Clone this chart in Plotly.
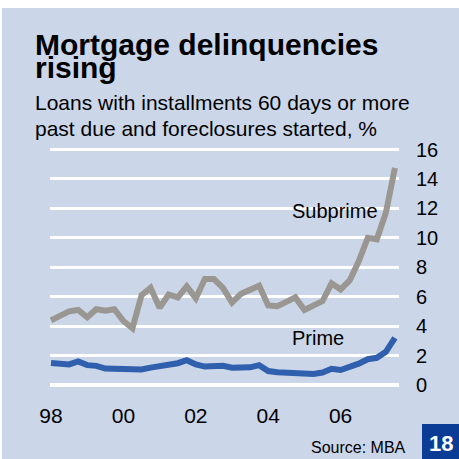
import plotly.graph_objects as go

# Quarterly data, 1998Q1 - 2007Q3
years = [1998 + i * 0.25 for i in range(39)]
subprime = [4.4, 4.75, 5.0, 5.1, 4.6, 5.15, 5.05, 5.15, 4.35, 3.85,
            6.1, 6.6, 5.25, 6.15, 5.95, 6.7, 5.9, 7.2, 7.2, 6.6,
            5.6, 6.2, 6.5, 6.75, 5.4, 5.35, 5.65, 5.95, 5.1, 5.4,
            5.7, 6.9, 6.5, 7.1, 8.4, 10.0, 9.9, 11.7, 14.75]
prime = [1.5, 1.4, 1.4, 1.6, 1.35, 1.3, 1.12, 1.1, 1.07, 1.0,
         1.05, 1.18, 1.25, 1.33, 1.48, 1.68, 1.4, 1.25, 1.27, 1.3,
         1.18, 1.15, 1.2, 1.35, 0.95, 0.86, 0.84, 0.86, 0.8, 0.75,
         0.85, 1.1, 1.02, 1.2, 1.45, 1.75, 1.85, 2.25, 3.2]
x_tick_vals = [1998, 2000, 2002, 2004, 2006]
x_tick_text = ["98", "00", "02", "04", "06"]
y_tick_vals = [0, 2, 4, 6, 8, 10, 12, 14, 16]

BG = "#CBD6E8"
FONT = "Liberation Sans, Arial, sans-serif"

W, H = 459, 459
ML, MR, MT, MB = 50, 60, 147, 71
PW = W - ML - MR
PH = H - MT - MB

def px(x):
    return (x - ML) / PW

def py(y):
    return (H - MB - y) / PH

fig = go.Figure()
fig.add_trace(go.Scatter(x=years, y=subprime, mode="lines",
                         line=dict(color="#9A9792", width=6), hoverinfo="skip"))
fig.add_trace(go.Scatter(x=years, y=prime, mode="lines",
                         line=dict(color="#2F5FAD", width=6), hoverinfo="skip"))

annotations = [
    dict(text="<b>Mortgage delinquencies</b>", x=px(33), y=py(45), xanchor="left", yanchor="middle",
         font=dict(size=30, color="#000000", family=FONT)),
    dict(text="<b>rising</b>", x=px(33), y=py(67), xanchor="left", yanchor="middle",
         font=dict(size=30, color="#000000", family=FONT)),
    dict(text="Loans with installments 60 days or more", x=px(33), y=py(102), xanchor="left", yanchor="middle",
         font=dict(size=21, color="#000000", family=FONT)),
    dict(text="past due and foreclosures started, %", x=px(33), y=py(128), xanchor="left", yanchor="middle",
         font=dict(size=21, color="#000000", family=FONT)),
    dict(text="Subprime", x=px(380), y=py(211), xanchor="right", yanchor="middle",
         font=dict(size=20, color="#000000", family=FONT)),
    dict(text="Prime", x=px(290), y=py(338), xanchor="left", yanchor="middle",
         font=dict(size=20, color="#000000", family=FONT)),
    dict(text="Source: MBA", x=px(408), y=py(447), xanchor="right", yanchor="middle",
         font=dict(size=16, color="#000000", family=FONT)),
    dict(text="<b>18</b>", x=px(440.5), y=py(443), xanchor="center", yanchor="middle",
         font=dict(size=22, color="#FFFFFF", family=FONT)),
]
for a in annotations:
    a.update(xref="paper", yref="paper", showarrow=False)

shapes = [
    dict(type="rect", xref="paper", yref="paper", x0=px(-5), x1=px(465), y0=py(-5), y1=py(8),
         fillcolor="#FFFFFF", line=dict(width=0), layer="below"),
    dict(type="rect", xref="paper", yref="paper", x0=px(-5), x1=px(2), y0=py(-5), y1=py(465),
         fillcolor="#FFFFFF", line=dict(width=0), layer="below"),
    dict(type="rect", xref="paper", yref="paper", x0=px(422), x1=px(465), y0=py(424), y1=py(465),
         fillcolor="#0A3C96", line=dict(width=0), layer="below"),
]

fig.update_layout(
    width=W, height=H,
    margin=dict(l=ML, r=MR, t=MT, b=MB, pad=0),
    paper_bgcolor=BG, plot_bgcolor=BG,
    showlegend=False,
    annotations=annotations,
    shapes=shapes,
    font=dict(family=FONT, color="#000000"),
)
fig.update_xaxes(
    range=[1997.972, 2007.613],
    tickvals=x_tick_vals, ticktext=x_tick_text,
    showgrid=False, zeroline=False, showline=False,
    ticks="outside", ticklen=9, tickcolor="rgba(0,0,0,0)",
    tickfont=dict(size=21, family=FONT, color="#000000"),
)
fig.update_yaxes(
    range=[-0.204, 16.17], side="right",
    tickvals=y_tick_vals,
    showgrid=True, gridcolor="#FFFFFF", gridwidth=2.5,
    zeroline=True, zerolinecolor="#FFFFFF", zerolinewidth=3.5,
    showline=False,
    ticks="outside", ticklen=12, tickcolor="rgba(0,0,0,0)",
    tickfont=dict(size=20, family=FONT, color="#000000"),
)

fig.write_html(
    "out.html",
    config={"displayModeBar": False},
    post_script="document.body.style.margin='0';document.body.style.padding='0';document.body.style.overflow='hidden';",
)
